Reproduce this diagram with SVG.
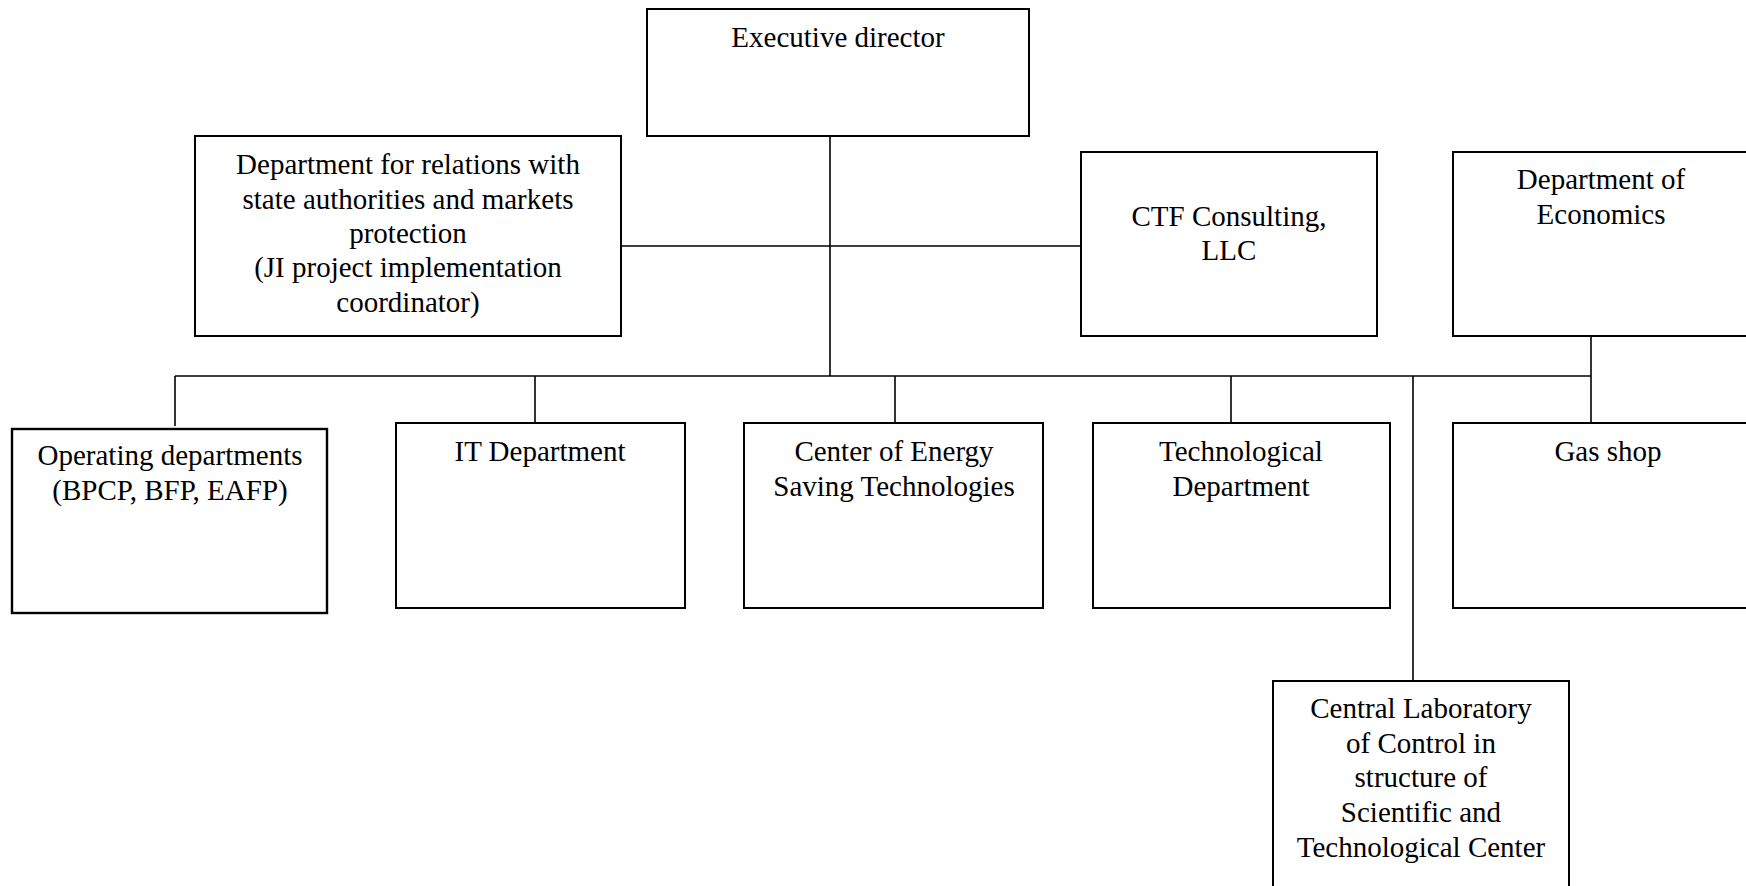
<svg xmlns="http://www.w3.org/2000/svg" width="1746" height="886" viewBox="0 0 1746 886">
<style>
.box{fill:#fff;stroke:#000;stroke-width:2}
.ln{fill:none;stroke:#000;stroke-width:1.6}
text{font-family:"Liberation Serif","Times New Roman",serif;font-size:29px;fill:#000;text-anchor:middle}
</style>
<rect width="1746" height="886" fill="#fff"/>
<g id="connectors">
<line class="ln" x1="830" y1="136" x2="830" y2="376"/>
<line class="ln" x1="621" y1="246" x2="1081" y2="246"/>
<line class="ln" x1="175" y1="376" x2="1591" y2="376"/>
<line class="ln" x1="175" y1="376" x2="175" y2="426"/>
<line class="ln" x1="535" y1="376" x2="535" y2="423"/>
<line class="ln" x1="895" y1="376" x2="895" y2="423"/>
<line class="ln" x1="1231" y1="376" x2="1231" y2="423"/>
<line class="ln" x1="1413" y1="376" x2="1413" y2="681"/>
<line class="ln" x1="1591" y1="331" x2="1591" y2="423"/>
</g>
<g id="exec">
<rect class="box" x="647" y="9" width="382" height="127"/>
<text x="838" y="47">Executive director</text>
</g>
<g id="relations">
<rect class="box" x="195" y="136" width="426" height="200"/>
<text x="408" y="174">Department for relations with</text>
<text x="408" y="209">state authorities and markets</text>
<text x="408" y="243">protection</text>
<text x="408" y="277">(JI project implementation</text>
<text x="408" y="312">coordinator)</text>
</g>
<g id="ctf">
<rect class="box" x="1081" y="152" width="296" height="184"/>
<text x="1229" y="226">CTF Consulting,</text>
<text x="1229" y="260">LLC</text>
</g>
<g id="economics">
<rect class="box" x="1453" y="152" width="296" height="184"/>
<text x="1601" y="189">Department of</text>
<text x="1601" y="224">Economics</text>
</g>
<g id="operating">
<rect class="box" x="12" y="429" width="315" height="184" style="stroke-width:2.4"/>
<text x="170" y="465">Operating departments</text>
<text x="170" y="500">(BPCP, BFP, EAFP)</text>
</g>
<g id="it">
<rect class="box" x="396" y="423" width="289" height="185"/>
<text x="540" y="461">IT Department</text>
</g>
<g id="energy">
<rect class="box" x="744" y="423" width="299" height="185"/>
<text x="894" y="461">Center of Energy</text>
<text x="894" y="496">Saving Technologies</text>
</g>
<g id="tech">
<rect class="box" x="1093" y="423" width="297" height="185"/>
<text x="1241" y="461">Technological</text>
<text x="1241" y="496">Department</text>
</g>
<g id="gas">
<rect class="box" x="1453" y="423" width="310" height="185"/>
<text x="1608" y="461">Gas shop</text>
</g>
<g id="lab">
<rect class="box" x="1273" y="681" width="296" height="220"/>
<text x="1421" y="718">Central Laboratory</text>
<text x="1421" y="753">of Control in</text>
<text x="1421" y="787">structure of</text>
<text x="1421" y="822">Scientific and</text>
<text x="1421" y="857">Technological Center</text>
</g>
</svg>
